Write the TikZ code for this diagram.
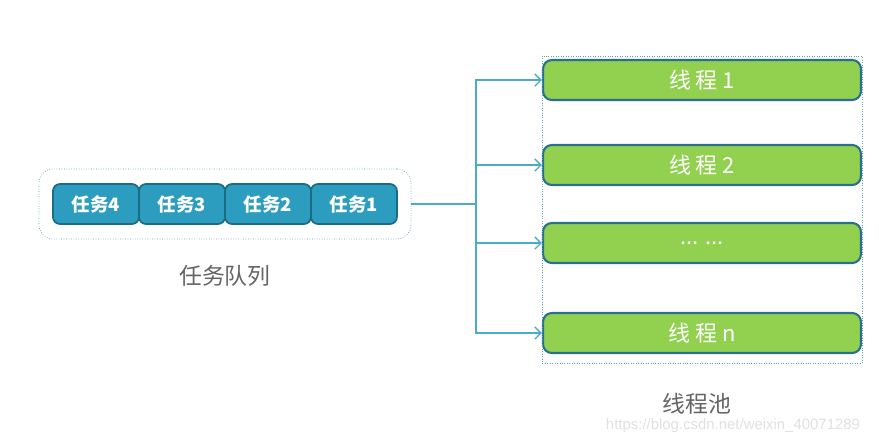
\documentclass[tikz,border=0pt]{standalone}
\usepackage{fontspec}
\setmainfont{Liberation Sans}
\newfontfamily\cjk{Noto Sans CJK SC}
\usetikzlibrary{positioning,fit,calc,arrows.meta}

\definecolor{taskfill}{RGB}{44,157,190}
\definecolor{taskline}{RGB}{26,108,135}
\definecolor{poolfill}{RGB}{146,208,80}
\definecolor{poolline}{RGB}{40,112,140}
\definecolor{linkcol}{RGB}{75,172,198}
\definecolor{labelcol}{RGB}{100,100,100}

\begin{document}
\begin{tikzpicture}[x=0.02cm,y=-0.02cm,>={Straight Barb[length=3.5pt,width=7pt]},
	taskbox/.style={draw=taskline,fill=taskfill,line width=1pt,rounded corners=4pt,
		minimum width=1.72cm,minimum height=0.8cm,outer sep=0pt,
		text=white,font=\cjk\bfseries\fontsize{10.5}{12}\selectfont},
	threadbox/.style={draw=poolline,fill=poolfill,line width=1.2pt,rounded corners=5pt,
		minimum width=6.36cm,minimum height=0.8cm,
		text=white,font=\cjk\fontsize{12.5}{14}\selectfont},
	frame/.style={draw=linkcol!70!gray,densely dotted,line width=0.4pt},
	link/.style={draw=linkcol,line width=0.8pt},
	caption/.style={text=labelcol,font=\cjk\fontsize{13}{15}\selectfont}]
		\useasboundingbox (0,0) rectangle (879,440);

		% the task queue
		\node[taskbox] (t4) at (96,204) {任务4};
		\foreach \i/\j in {3/4,2/3,1/2}
			\node[taskbox,right=0pt of t\j] (t\i) {任务\i};
		\node[frame,rounded corners=8pt,fit=(t4)(t1),
			inner xsep=0.28cm,inner ysep=0.3cm] (queue) {};
		\node[caption,below=0.4cm of queue] (qlabel) {任务队列};

		% the thread pool
		\node[threadbox] (p1) at (702,80) {线 程 1};
		\node[threadbox] (p2) at (702,165) {线 程 2};
		\node[threadbox] (p3) at (702,243) {... ...};
		\node[threadbox] (pn) at (702,333) {线 程 n};
		\draw[frame] ($(p1.north west)+(0,-3)$) rectangle ($(pn.south east)+(0,9)$);
		\node[caption] (plabel) at (697,404) {线程池};

		% from the queue to every thread
		\coordinate (split) at (476,204);
		\draw[link] (queue.east) -- (split);
		\foreach \p in {p1,p2,p3,pn}
			\draw[link,->] (split) |- (\p.west);

		% the watermark
		\node[text=black!12,font=\fontsize{8.5}{10}\selectfont] (mark) at (733,426)
			{https://blog.csdn.net/weixin\_40071289};
	\end{tikzpicture}
\end{document}
